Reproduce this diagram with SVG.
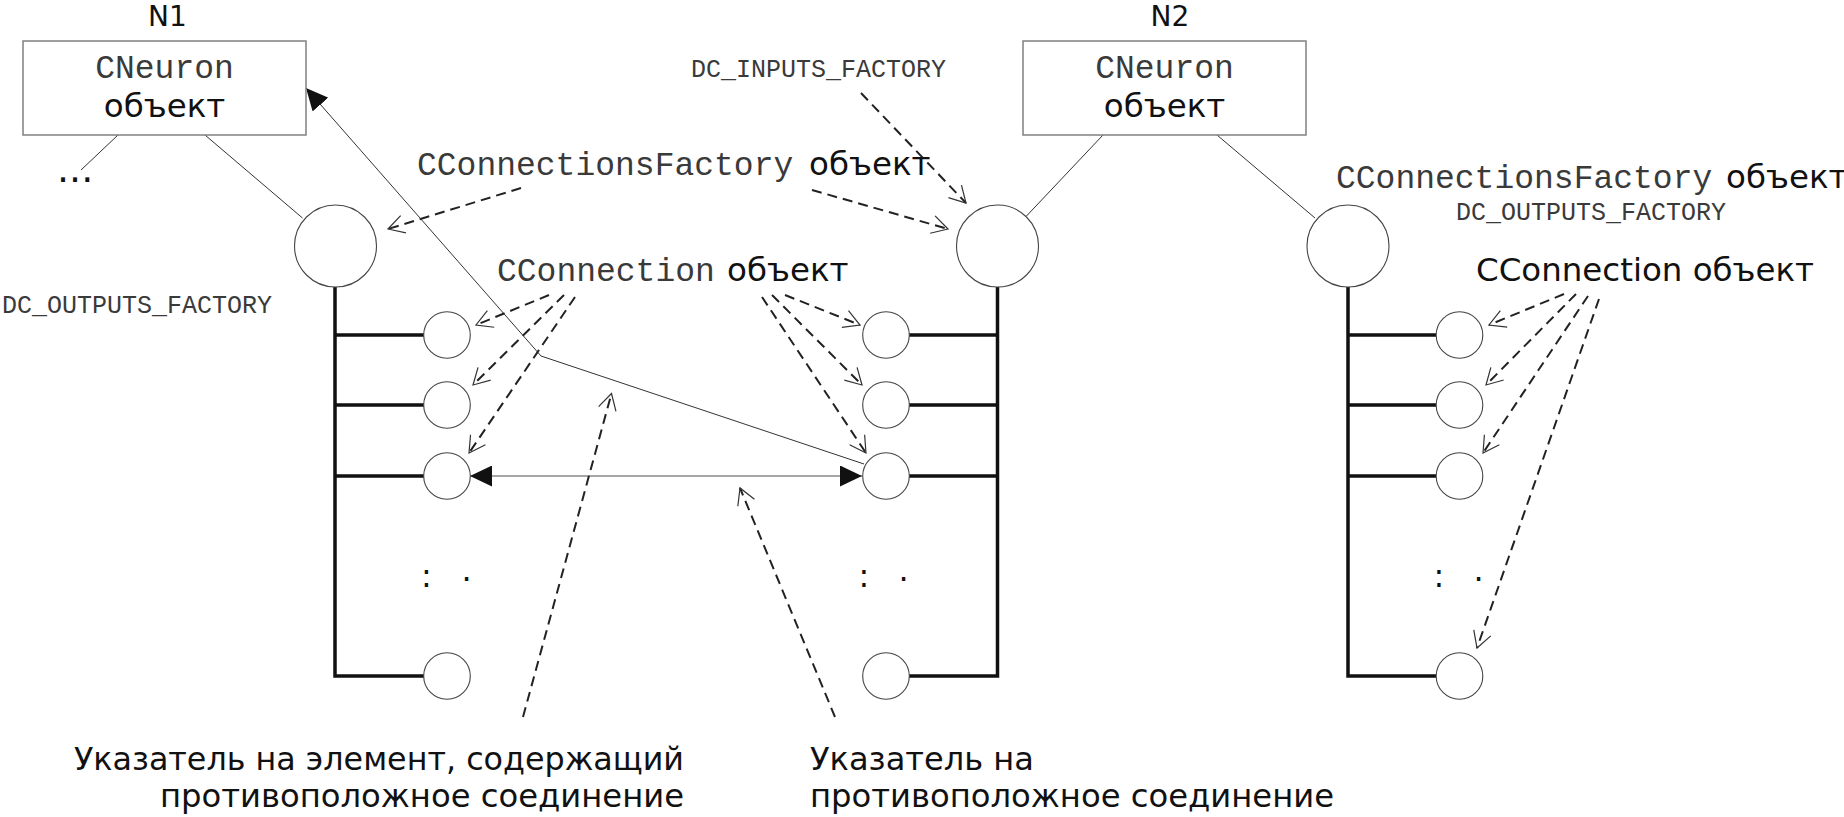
<svg xmlns="http://www.w3.org/2000/svg" width="1844" height="817" viewBox="0 0 1844 817">
<style>
.s{font-family:"DejaVu Sans","Noto Sans",sans-serif;font-size:32.5px;fill:#111}
.m{font-family:"Liberation Mono","DejaVu Sans Mono",monospace;font-size:33px;fill:#3a3a3a}
.ms{font-family:"Liberation Mono","DejaVu Sans Mono",monospace;font-size:25px;fill:#3a3a3a}
.box{fill:#fff;stroke:#808080;stroke-width:1.5}
.big{fill:#fff;stroke:#444;stroke-width:1.1}
.sm{fill:#fff;stroke:#444;stroke-width:1.1}
.bus{fill:none;stroke:#111;stroke-width:3.5}
.thin{fill:none;stroke:#333;stroke-width:1}
.dash{fill:none;stroke:#222;stroke-width:2;stroke-dasharray:10 6;marker-end:url(#open)}
.dbl{fill:none;stroke:#888;stroke-width:1.5}
.dots{font-family:"DejaVu Sans",sans-serif;font-size:32px;fill:#111}
</style>
<defs>
<marker id="fill" markerUnits="userSpaceOnUse" viewBox="0 0 23 21" markerWidth="23" markerHeight="21" refX="22" refY="10.5" orient="auto-start-reverse">
<path d="M0,0 L22,10.5 L0,21 z" fill="#111"/>
</marker>
<marker id="open" markerUnits="userSpaceOnUse" viewBox="0 0 18 20" markerWidth="18" markerHeight="20" refX="17" refY="10" orient="auto" style="overflow:visible">
<path d="M1,1 L17,10 L1,19" fill="none" stroke="#333" stroke-width="1.2"/>
</marker>
</defs>

<g id="connectors">
<line class="thin" x1="118" y1="135" x2="81" y2="170"/>
<line class="thin" x1="205" y1="135" x2="302.5" y2="218"/>
<line class="thin" x1="1103" y1="135" x2="1026.5" y2="216"/>
<line class="thin" x1="1217" y1="135" x2="1315" y2="218"/>
<path class="bus" d="M335,287 V676 H424 M335,335 H424 M335,405 H424 M335,476 H424"/>
<path class="bus" d="M997.5,287 V676 H909 M997.5,335 H909 M997.5,405 H909 M997.5,476 H909"/>
<path class="bus" d="M1348,287 V676 H1436 M1348,335 H1436 M1348,405 H1436 M1348,476 H1436"/>
<polyline class="thin" points="864,464 541,356 306,88" marker-end="url(#fill)"/>
<line class="dbl" x1="470" y1="476" x2="862" y2="476" marker-start="url(#fill)" marker-end="url(#fill)"/>
<line class="dash" x1="521" y1="188" x2="388" y2="229"/>
<line class="dash" x1="812" y1="190" x2="948" y2="229"/>
<line class="dash" x1="861" y1="93" x2="966" y2="203"/>
<line class="dash" x1="549" y1="295" x2="476" y2="325"/>
<line class="dash" x1="564" y1="295" x2="473" y2="385"/>
<line class="dash" x1="575" y1="297" x2="469" y2="453"/>
<line class="dash" x1="785" y1="295" x2="860" y2="325"/>
<line class="dash" x1="772" y1="295" x2="862" y2="385"/>
<line class="dash" x1="762" y1="297" x2="866" y2="453"/>
<line class="dash" x1="1564" y1="294" x2="1489" y2="325"/>
<line class="dash" x1="1576" y1="294" x2="1486" y2="385"/>
<line class="dash" x1="1588" y1="296" x2="1483" y2="453"/>
<line class="dash" x1="1599" y1="299" x2="1477" y2="648"/>
<line class="dash" x1="523" y1="717" x2="611.5" y2="393.5"/>
<line class="dash" x1="835" y1="717" x2="740" y2="488"/>
</g>

<g id="n1">
<text class="s" x="167.5" y="26" text-anchor="middle" style="font-size:28px">N1</text>
<rect class="box" x="23" y="41" width="283" height="94"/>
<text class="m" x="164.5" y="78" text-anchor="middle">CNeuron</text>
<text class="s" x="164.5" y="117" text-anchor="middle">объект</text>
</g>
<g id="n2">
<text class="s" x="1170" y="26" text-anchor="middle" style="font-size:28px">N2</text>
<rect class="box" x="1023" y="41" width="283" height="94"/>
<text class="m" x="1164.5" y="78" text-anchor="middle">CNeuron</text>
<text class="s" x="1164.5" y="117" text-anchor="middle">объект</text>
</g>
<g id="n1-more">
<text class="s" x="57" y="182" style="font-size:38px">...</text>
</g>

<g id="factory-n1-out"><circle class="big" cx="335.5" cy="246" r="41"/></g>
<g id="factory-n2-in"><circle class="big" cx="997.5" cy="246" r="41"/></g>
<g id="factory-n2-out"><circle class="big" cx="1348" cy="246" r="41"/></g>

<g id="conn-n1">
<circle class="sm" cx="447" cy="335" r="23.3"/>
<circle class="sm" cx="447" cy="405" r="23.3"/>
<circle class="sm" cx="447" cy="476" r="23.3"/>
<circle class="sm" cx="447" cy="676" r="23.3"/>
<text class="dots" x="421" y="586.5">:<tspan x="461.5" dy="-6">.</tspan></text>
</g>
<g id="conn-n2-in">
<circle class="sm" cx="886" cy="335" r="23.3"/>
<circle class="sm" cx="886" cy="405" r="23.3"/>
<circle class="sm" cx="886" cy="476" r="23.3"/>
<circle class="sm" cx="886" cy="676" r="23.3"/>
<text class="dots" x="858.5" y="586.5">:<tspan x="898.5" dy="-6">.</tspan></text>
</g>
<g id="conn-n2-out">
<circle class="sm" cx="1459.5" cy="335" r="23.3"/>
<circle class="sm" cx="1459.5" cy="405" r="23.3"/>
<circle class="sm" cx="1459.5" cy="476" r="23.3"/>
<circle class="sm" cx="1459.5" cy="676" r="23.3"/>
<text class="dots" x="1433.5" y="586.5">:<tspan x="1473.5" dy="-6">.</tspan></text>
</g>

<g id="labels">
<text class="ms" x="691" y="77">DC_INPUTS_FACTORY</text>
<text class="m" x="417" y="175">CConnectionsFactory</text>
<text class="s" x="809" y="175">объект</text>
<text class="ms" x="2" y="313">DC_OUTPUTS_FACTORY</text>
<text class="m" x="497" y="281">CConnection</text>
<text class="s" x="727" y="281">объект</text>
<text class="m" x="1336" y="188">CConnectionsFactory</text>
<text class="s" x="1726" y="188">объект</text>
<text class="ms" x="1456" y="220">DC_OUTPUTS_FACTORY</text>
<text class="s" x="1476" y="281" textLength="338" lengthAdjust="spacingAndGlyphs">CConnection объект</text>
<text class="s" x="74" y="770" textLength="610" lengthAdjust="spacingAndGlyphs">Указатель на элемент, содержащий</text>
<text class="s" x="160" y="807" textLength="524" lengthAdjust="spacingAndGlyphs">противоположное соединение</text>
<text class="s" x="810" y="770" textLength="224" lengthAdjust="spacingAndGlyphs">Указатель на</text>
<text class="s" x="810" y="807" textLength="524" lengthAdjust="spacingAndGlyphs">противоположное соединение</text>
</g>
</svg>
